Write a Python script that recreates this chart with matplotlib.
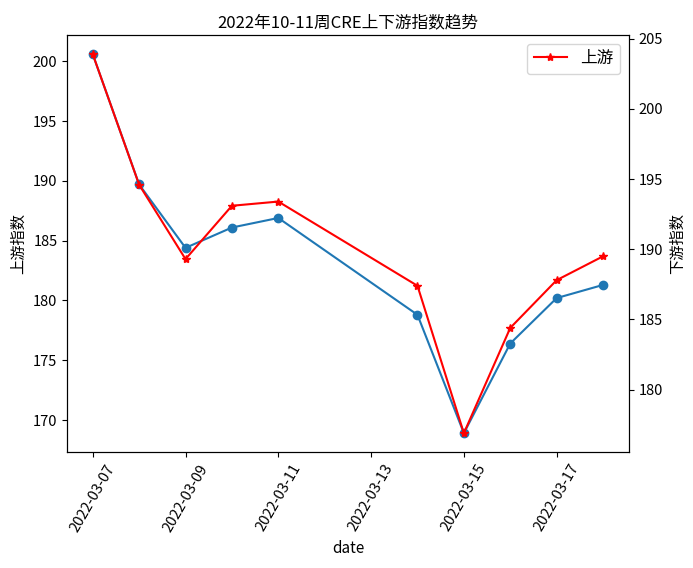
import pandas as pd
import matplotlib
matplotlib.use("Agg")
import matplotlib.pyplot as plt

plt.rcParams['font.family'] = ['Noto Sans CJK SC', 'DejaVu Sans']
plt.rcParams['axes.unicode_minus'] = False

# ----------------------------
# data
# ----------------------------
dates = ["2022-03-07", "2022-03-08", "2022-03-09", "2022-03-10", "2022-03-11",
         "2022-03-14", "2022-03-15", "2022-03-16", "2022-03-17", "2022-03-18"]
upstream_left = [200.6, 189.7, 184.4, 186.1, 186.9, 178.8, 168.9, 176.4, 180.2, 181.3]
downstream_right = [203.9, 194.6, 189.3, 193.1, 193.4, 187.4, 176.9, 184.4, 187.8, 189.5]

x = pd.to_datetime(dates)

fig, ax1 = plt.subplots(figsize=(6.93, 5.68), dpi=100)
fig.subplots_adjust(left=0.097, right=0.907, top=0.938, bottom=0.204)

# left axis: blue circles
ax1.plot(x, upstream_left, marker="o", color="#1f77b4")
ax1.set_ylabel("上游指数", fontsize=11)
ax1.set_xlabel("date", fontsize=11)
ax1.set_title("2022年10-11周CRE上下游指数趋势", fontsize=12)
ax1.tick_params(labelsize=10.5)

# right axis: red stars
ax2 = ax1.twinx()
ax2.plot(x, downstream_right, marker="*", color="red", label="上游")
ax2.set_ylabel("下游指数", fontsize=11)
ax2.tick_params(labelsize=10.5)
ax2.legend(loc="upper right", fontsize=12)

plt.setp(ax1.get_xticklabels(), rotation=60)

plt.savefig("out.png", dpi=100)
plt.close()
